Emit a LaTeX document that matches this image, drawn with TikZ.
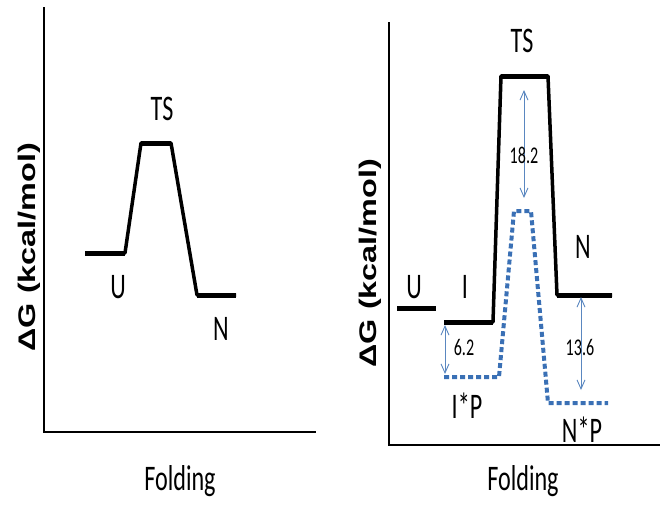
\documentclass[tikz,border=0pt]{standalone}
\usepackage{fontspec}
\usepackage{graphicx}
\usetikzlibrary{arrows.meta}
\newfontfamily\carl{Carlito}
\newfontfamily\boldsans{Liberation Sans}
\definecolor{dashblue}{HTML}{3A70B5}
\definecolor{arrblue}{HTML}{5A87C0}
\newcommand{\nar}[1]{\scalebox{0.67}[1]{#1}}
\tikzset{
  axis/.style={line width=1.5pt, black},
  profile/.style={line width=3.5pt, black, line join=round},
  level/.style={line width=5pt, black},
  dashprof/.style={line width=4pt, dashblue, dash pattern=on 5pt off 3pt},
  gap/.style={line width=0.9pt, arrblue, {Straight Barb[length=9pt,width=8pt]}-{Straight Barb[length=9pt,width=8pt]}},
  lbl/.style={inner sep=0pt, anchor=base, font=\carl\fontsize{36}{36}\selectfont},
  num/.style={inner sep=0pt, anchor=base, font=\carl\fontsize{24}{24}\selectfont},
  ylbl/.style={inner sep=0pt, rotate=90, font=\boldsans\bfseries\fontsize{24}{24}\selectfont},
}
\begin{document}
\begin{tikzpicture}[x=1pt,y=-1pt]
\useasboundingbox (0,0) rectangle (662,512);
% ---------- left panel ----------
\coordinate (LO) at (44,432);
\coordinate (LYt) at (44,7);
\coordinate (LXr) at (316,432);
\draw[axis] (LYt) -- (LO) -- (LXr);
\node[ylbl] (LYL) at (29,247) {\scalebox{1.35}[1]{ΔG (kcal/mol)}};
\node[lbl] (LFold) at (180,490) {\nar{Folding}};
\coordinate (LU1) at (85,253);
\coordinate (LU2) at (125,253);
\coordinate (LT1) at (141,143);
\coordinate (LT2) at (171,143);
\coordinate (LN1) at (197,295);
\coordinate (LN2) at (236,295);
\draw[profile] (LU1) -- (LU2) -- (LT1) -- (LT2) -- (LN1) -- (LN2);
\draw[level] (LU1) -- (LU2);
\draw[level] (LT1) -- (LT2);
\draw[level] (LN1) -- (LN2);
\node[lbl] (LTS) at (162,120) {\nar{TS}};
\node[lbl] (LUl) at (118,298) {\nar{U}};
\node[lbl] (LNl) at (221,340) {\nar{N}};
% ---------- right panel ----------
\coordinate (RO) at (389,445);
\coordinate (RYt) at (389,22);
\coordinate (RXr) at (660,445);
\draw[axis] (RYt) -- (RO) -- (RXr);
\node[ylbl] (RYL) at (370,263) {\scalebox{1.35}[1]{ΔG (kcal/mol)}};
\node[lbl] (RFold) at (523,490) {\nar{Folding}};
% black profile
\coordinate (RU1) at (397,308);
\coordinate (RU2) at (436,308);
\coordinate (RI1) at (444,322);
\coordinate (RI2) at (493,322);
\coordinate (RT1) at (501,76);
\coordinate (RT2) at (548,76);
\coordinate (RN1) at (557,295);
\coordinate (RN2) at (612,295);
\draw[level] (RU1) -- (RU2);
\draw[profile] (RI1) -- (RI2) -- (RT1) -- (RT2) -- (RN1) -- (RN2);
\draw[level] (RI1) -- (RI2);
\draw[level] (RT1) -- (RT2);
\draw[level] (RN1) -- (RN2);
% dashed profile
\coordinate (DI1) at (444,377);
\coordinate (DI2) at (499,377);
\coordinate (DT1) at (514,211);
\coordinate (DT2) at (531,211);
\coordinate (DN1) at (548,403);
\coordinate (DN2) at (608,403);
\draw[dashprof] (DI1) -- (DI2) -- (DT1) -- (DT2) -- (DN1) -- (DN2);
% gap arrows
\coordinate (A1t) at (445,325);
\coordinate (A1b) at (445,374);
\coordinate (A2t) at (524,90);
\coordinate (A2b) at (524,198);
\coordinate (A3t) at (581,297);
\coordinate (A3b) at (581,390);
\draw[gap] (A1t) -- (A1b);
\draw[gap] (A2t) -- (A2b);
\draw[gap] (A3t) -- (A3b);
\node[num] (G1) at (464,355) {\nar{6.2}};
\node[num] (G2) at (524,163) {\nar{18.2}};
\node[num] (G3) at (580,355) {\nar{13.6}};
% labels
\node[lbl] (RTS) at (522,52) {\nar{TS}};
\node[lbl] (RUl) at (414,298) {\nar{U}};
\node[lbl] (RIl) at (465,298) {\nar{I}};
\node[lbl] (RNl) at (583,258) {\nar{N}};
\node[lbl] (RIP) at (467,418) {\nar{I*P}};
\node[lbl] (RNP) at (582,442) {\nar{N*P}};
\end{tikzpicture}
\end{document}
